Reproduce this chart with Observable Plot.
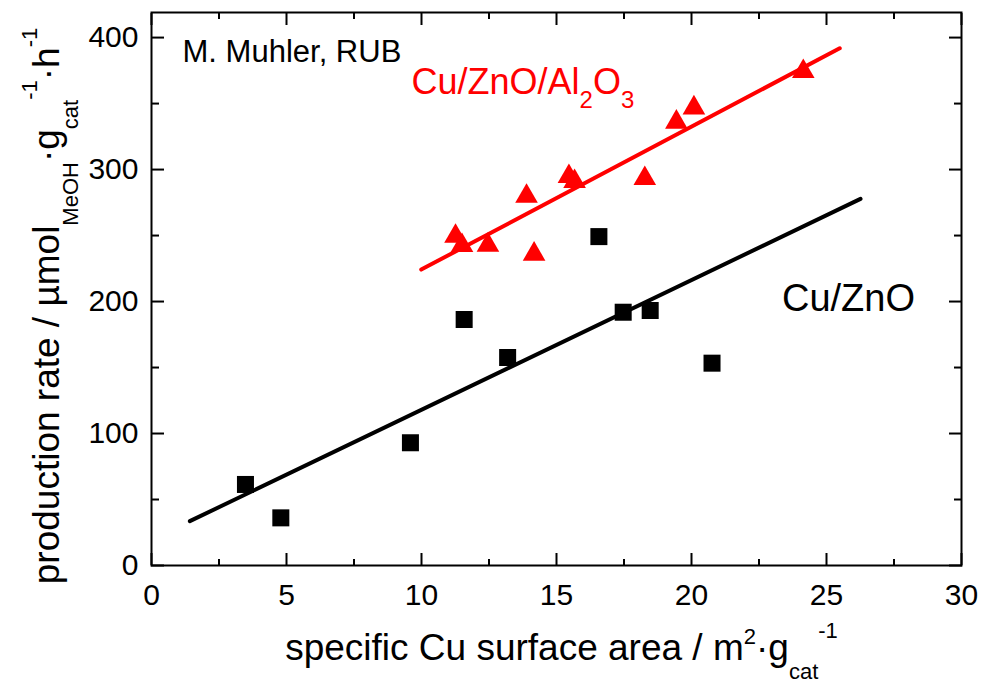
<!DOCTYPE html>
<html><head><meta charset="utf-8">
<script src="https://cdn.jsdelivr.net/npm/d3@7"></script>
<script src="https://cdn.jsdelivr.net/npm/@observablehq/plot@0.6"></script>
<style>
  html,body{margin:0;padding:0;background:#fff}
</style>
</head><body><div id="chart"></div>
<script>
// Cu/ZnO catalysts (black squares)
const cuZnOArea = [3.48, 4.79, 9.59, 11.58, 13.19, 16.57, 17.47, 18.47, 20.76];
const cuZnORate = [61.4, 36.1, 93, 186.4, 157.6, 249.2, 191.9, 193.2, 153.3];
// Cu/ZnO/Al2O3 catalysts (red triangles)
const alArea = [11.26, 11.5, 12.46, 13.89, 14.17, 15.46, 15.67, 18.27, 19.44, 20.09, 24.14];
const alRate = [249.4, 242.5, 242.7, 279.8, 235.9, 294.7, 290.9, 293.2, 335.9, 346.7, 374.3];
// linear fit lines (end points)
const fitCuZnOArea = [1.42, 26.26];
const fitCuZnORate = [33.6, 277.8];
const fitAlArea = [9.99, 25.49];
const fitAlRate = [224.2, 391.9];
// ticks
const xMajorTicks = [0, 5, 10, 15, 20, 25, 30];
const xMinorTicks = [2.5, 7.5, 12.5, 17.5, 22.5, 27.5];
const yMajorTicks = [0, 100, 200, 300, 400];
const yMinorTicks = [50, 150, 250, 350];

const cuZnO = cuZnOArea.map((x, i) => ({x, y: cuZnORate[i]}));
const cuAl = alArea.map((x, i) => ({x, y: alRate[i]}));
const fitCuZnO = fitCuZnOArea.map((x, i) => ({x, y: fitCuZnORate[i]}));
const fitAl = fitAlArea.map((x, i) => ({x, y: fitAlRate[i]}));

const RED = "#ff0000";

const plot = Plot.plot({
  width: 983,
  height: 683,
  marginLeft: 151,
  marginRight: 22,
  marginTop: 12,
  marginBottom: 118,
  style: {fontFamily: "'Liberation Sans', Arial, sans-serif", fontSize: "30px", color: "black", background: "white"},
  x: {domain: [0, 30], label: null},
  y: {domain: [0, 419], label: null},
  marks: [
    // inward ticks on all four sides
    Plot.axisX(xMajorTicks, {anchor: "bottom", tickSize: -12, tickFormat: () => "", strokeWidth: 2, label: null}),
    Plot.axisX(xMinorTicks, {anchor: "bottom", tickSize: -6, tickFormat: () => "", strokeWidth: 2, label: null}),
    Plot.axisX(xMajorTicks, {anchor: "top", tickSize: -12, tickFormat: () => "", strokeWidth: 2, label: null}),
    Plot.axisX(xMinorTicks, {anchor: "top", tickSize: -6, tickFormat: () => "", strokeWidth: 2, label: null}),
    Plot.axisY(yMajorTicks, {anchor: "left", tickSize: -13, tickFormat: () => "", strokeWidth: 2, label: null}),
    Plot.axisY(yMinorTicks, {anchor: "left", tickSize: -8, tickFormat: () => "", strokeWidth: 2, label: null}),
    Plot.axisY(yMajorTicks, {anchor: "right", tickSize: -13, tickFormat: () => "", strokeWidth: 2, label: null}),
    Plot.axisY(yMinorTicks, {anchor: "right", tickSize: -8, tickFormat: () => "", strokeWidth: 2, label: null}),
    // tick labels
    Plot.axisX(xMajorTicks, {anchor: "bottom", tickSize: 0, tickPadding: 18, tickFormat: d3.format("d"), fontSize: 30, label: null}),
    Plot.axisY(yMajorTicks, {anchor: "left", tickSize: 0, tickPadding: 13, tickFormat: d3.format("d"), fontSize: 30, label: null}),
    Plot.frame({stroke: "black", strokeWidth: 2}),
    // fit lines
    Plot.line(fitCuZnO, {x: "x", y: "y", stroke: "black", strokeWidth: 4, strokeLinecap: "round"}),
    Plot.line(fitAl, {x: "x", y: "y", stroke: RED, strokeWidth: 4, strokeLinecap: "round"}),
    // data points
    Plot.dot(cuZnO, {x: "x", y: "y", symbol: "square", r: 9.6, fill: "black", stroke: "none"}),
    Plot.dot(cuAl, {x: "x", y: "y", symbol: "triangle", r: 8.4, fill: RED, stroke: "none"}),
    // annotations
    Plot.text(["M. Muhler, RUB"], {x: 1.15, y: 389, text: d => d, textAnchor: "start", fontSize: 31, fill: "black"}),
    Plot.text(["Cu/ZnO/Al2O3"], {x: 9.63, y: 366, text: d => d, textAnchor: "start", fontSize: 36, fill: RED, className: "lbl-al"}),
    Plot.text(["Cu/ZnO"], {x: 23.35, y: 202, text: d => d, textAnchor: "start", fontSize: 38, fill: "black"}),
    // axis titles
    Plot.text(["specific Cu surface area / m2·gcat-1"], {frameAnchor: "bottom", text: d => d, textAnchor: "middle", lineAnchor: "middle", dx: 5, dy: 83, fontSize: 37, fill: "black", className: "lbl-x"}),
    Plot.text(["production rate / µmolMeOH·gcat-1·h-1"], {frameAnchor: "left", text: d => d, textAnchor: "middle", lineAnchor: "middle", rotate: -90, dx: -104, dy: 17, fontSize: 37, fill: "black", className: "lbl-y"})
  ]
});

document.getElementById("chart").appendChild(plot);

// rebuild labels with sub/superscripts as tspans
function rich(selector, parts) {
  d3.select(plot).selectAll(selector + " text").each(function () {
    const t = d3.select(this);
    t.text(null);
    let prev = 0;
    parts.forEach(([s, shift, size]) => {
      const ts = t.append("tspan").text(s);
      if (size) ts.attr("font-size", size);
      const d = shift - prev;
      if (d) ts.attr("dy", d);
      prev = shift;
    });
  });
}
rich(".lbl-al", [["Cu/ZnO/Al", 0], ["2", 14, 24], ["O", 0], ["3", 14, 24]]);
rich(".lbl-x", [["specific Cu surface area / m", 0], ["2", -16, 22], ["·g", 0], ["cat", 19, 22], ["-1", -22, 22]]);
rich(".lbl-y", [["production rate / µmol", 0], ["MeOH", 19, 22], ["·g", 0], ["cat", 19, 22], ["-1", -22, 22], ["·h", 0], ["-1", -22, 22]]);
</script>
</body></html>
